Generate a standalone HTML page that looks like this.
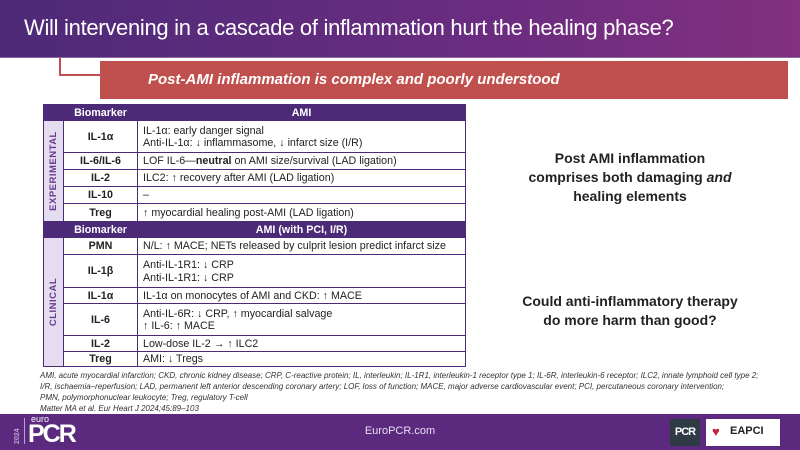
<!DOCTYPE html>
<html><head><meta charset="utf-8"><style>
*{margin:0;padding:0;box-sizing:border-box}
body{width:800px;height:450px;position:relative;overflow:hidden;background:#fff;font-family:"Liberation Sans",sans-serif;color:#222}
.hdr{position:absolute;left:0;top:0;width:800px;height:58px;background:linear-gradient(90deg,#4d2a78,#6a2c80 60%,#82307f);border-bottom:1px solid #8a6a9a}
.hdr div{position:absolute;left:24px;top:15px;color:#fff;font-size:22px;letter-spacing:-0.3px}
.brk{position:absolute;left:59px;top:58px;width:42px;height:18px;border-left:2px solid #c0504d;border-bottom:2px solid #c0504d}
.red{position:absolute;left:100px;top:61px;width:688px;height:38px;background:#c0504d}
.red span{position:absolute;left:48px;top:10px;color:#fff;font-weight:bold;font-style:italic;font-size:15px;white-space:nowrap}
table{position:absolute;left:43px;top:104px;width:423px;border-collapse:collapse;font-size:10.7px}
td{border:1px solid #4d2a78;padding:1px 5px 0;line-height:12.5px;white-space:nowrap;vertical-align:middle}
td.b{font-weight:bold;text-align:center;width:74px}
tr.h td{background:#4d2a78;color:#fff;font-weight:bold;text-align:center;height:16px;font-size:10.7px}
td.side{background:#e4dcef;width:20px;padding:0;position:relative}
td.side span{position:absolute;left:50%;top:50%;transform:translate(-50%,-50%) rotate(-90deg);color:#6a3a90;font-weight:bold;font-size:9.5px;letter-spacing:0.5px;white-space:nowrap}
.rt{position:absolute;left:480px;width:300px;text-align:center;font-weight:bold;font-size:14px;line-height:19px;color:#222}
.fn{position:absolute;left:40px;top:370px;font-size:8px;font-style:italic;line-height:11px;color:#333;white-space:nowrap}
.ft{position:absolute;left:0;top:414px;width:800px;height:36px;background:#5b2a7e}
</style></head><body>
<div class="hdr"><div>Will intervening in a cascade of inflammation hurt the healing phase?</div></div>
<div class="brk"></div>
<div class="red"><span>Post-AMI inflammation is complex and poorly understood</span></div>
<table>
<tr class="h"><td style="width:20px"></td><td class="b">Biomarker</td><td>AMI</td></tr>
<tr style="height:32px"><td class="side" rowspan="5"><span>EXPERIMENTAL</span></td><td class="b">IL-1α</td><td>IL-1α: early danger signal<br>Anti-IL-1α: ↓ inflammasome, ↓ infarct size (I/R)</td></tr>
<tr style="height:17px"><td class="b">IL-6/IL-6</td><td>LOF IL-6—<b>neutral</b> on AMI size/survival (LAD ligation)</td></tr>
<tr style="height:17px"><td class="b">IL-2</td><td>ILC2: ↑ recovery after AMI (LAD ligation)</td></tr>
<tr style="height:17px"><td class="b">IL-10</td><td>–</td></tr>
<tr style="height:18px"><td class="b">Treg</td><td>↑ myocardial healing post-AMI (LAD ligation)</td></tr>
<tr class="h"><td></td><td class="b">Biomarker</td><td>AMI (with PCI, I/R)</td></tr>
<tr style="height:17px"><td class="side" rowspan="6"><span>CLINICAL</span></td><td class="b">PMN</td><td>N/L: ↑ MACE; NETs released by culprit lesion predict infarct size</td></tr>
<tr style="height:33px"><td class="b">IL-1β</td><td>Anti-IL-1R1: ↓ CRP<br>Anti-IL-1R1: ↓ CRP</td></tr>
<tr style="height:16px"><td class="b">IL-1α</td><td>IL-1α on monocytes of AMI and CKD: ↑ MACE</td></tr>
<tr style="height:32px"><td class="b">IL-6</td><td>Anti-IL-6R: ↓ CRP, ↑ myocardial salvage<br>↑ IL-6: ↑ MACE</td></tr>
<tr style="height:16px"><td class="b">IL-2</td><td>Low-dose IL-2 → ↑ ILC2</td></tr>
<tr style="height:15px"><td class="b">Treg</td><td>AMI: ↓ Tregs</td></tr>
</table>
<div class="rt" style="top:149px">Post AMI inflammation<br>comprises both damaging <i>and</i><br>healing elements</div>
<div class="rt" style="top:292px">Could anti-inflammatory therapy<br>do more harm than good?</div>
<div class="fn">AMI, acute myocardial infarction; CKD, chronic kidney disease; CRP, C-reactive protein; IL, interleukin; IL-1R1, interleukin-1 receptor type 1; IL-6R, interleukin-6 receptor; ILC2, innate lymphoid cell type 2;<br>I/R, ischaemia–reperfusion; LAD, permanent left anterior descending coronary artery; LOF, loss of function; MACE, major adverse cardiovascular event; PCI, percutaneous coronary intervention;<br>PMN, polymorphonuclear leukocyte; Treg, regulatory T-cell<br>Matter MA et al. Eur Heart J 2024;45:89–103</div>
<div class="ft">
<div style="position:absolute;left:14px;top:30px;color:#b9a4cc;font-size:7px;font-weight:bold;transform:rotate(-90deg);transform-origin:left top">2024</div>
<div style="position:absolute;left:24px;top:4px;width:1px;height:26px;background:#b9a4cc"></div>
<div style="position:absolute;left:31px;top:0px;color:#fff;font-size:9px">euro</div>
<div style="position:absolute;left:28px;top:6px;color:#fff;font-size:25px;font-weight:bold;letter-spacing:-2px">PCR</div>
<div style="position:absolute;left:0;width:800px;top:11px;text-align:center;color:#e8dff0;font-size:11px">EuroPCR.com</div>
<div style="position:absolute;left:670px;top:5px;width:30px;height:27px;background:#2e3a44;color:#fff;font-weight:bold;font-size:11px;text-align:center;line-height:27px;letter-spacing:-1px">PCR</div>
<div style="position:absolute;left:706px;top:5px;width:74px;height:27px;background:#fff"><span style="position:absolute;left:6px;top:5px;color:#c0203a;font-size:13px">♥</span><span style="position:absolute;left:24px;top:6px;font-weight:bold;font-size:11px;color:#222">EAPCI</span></div>
</div>
</body></html>
